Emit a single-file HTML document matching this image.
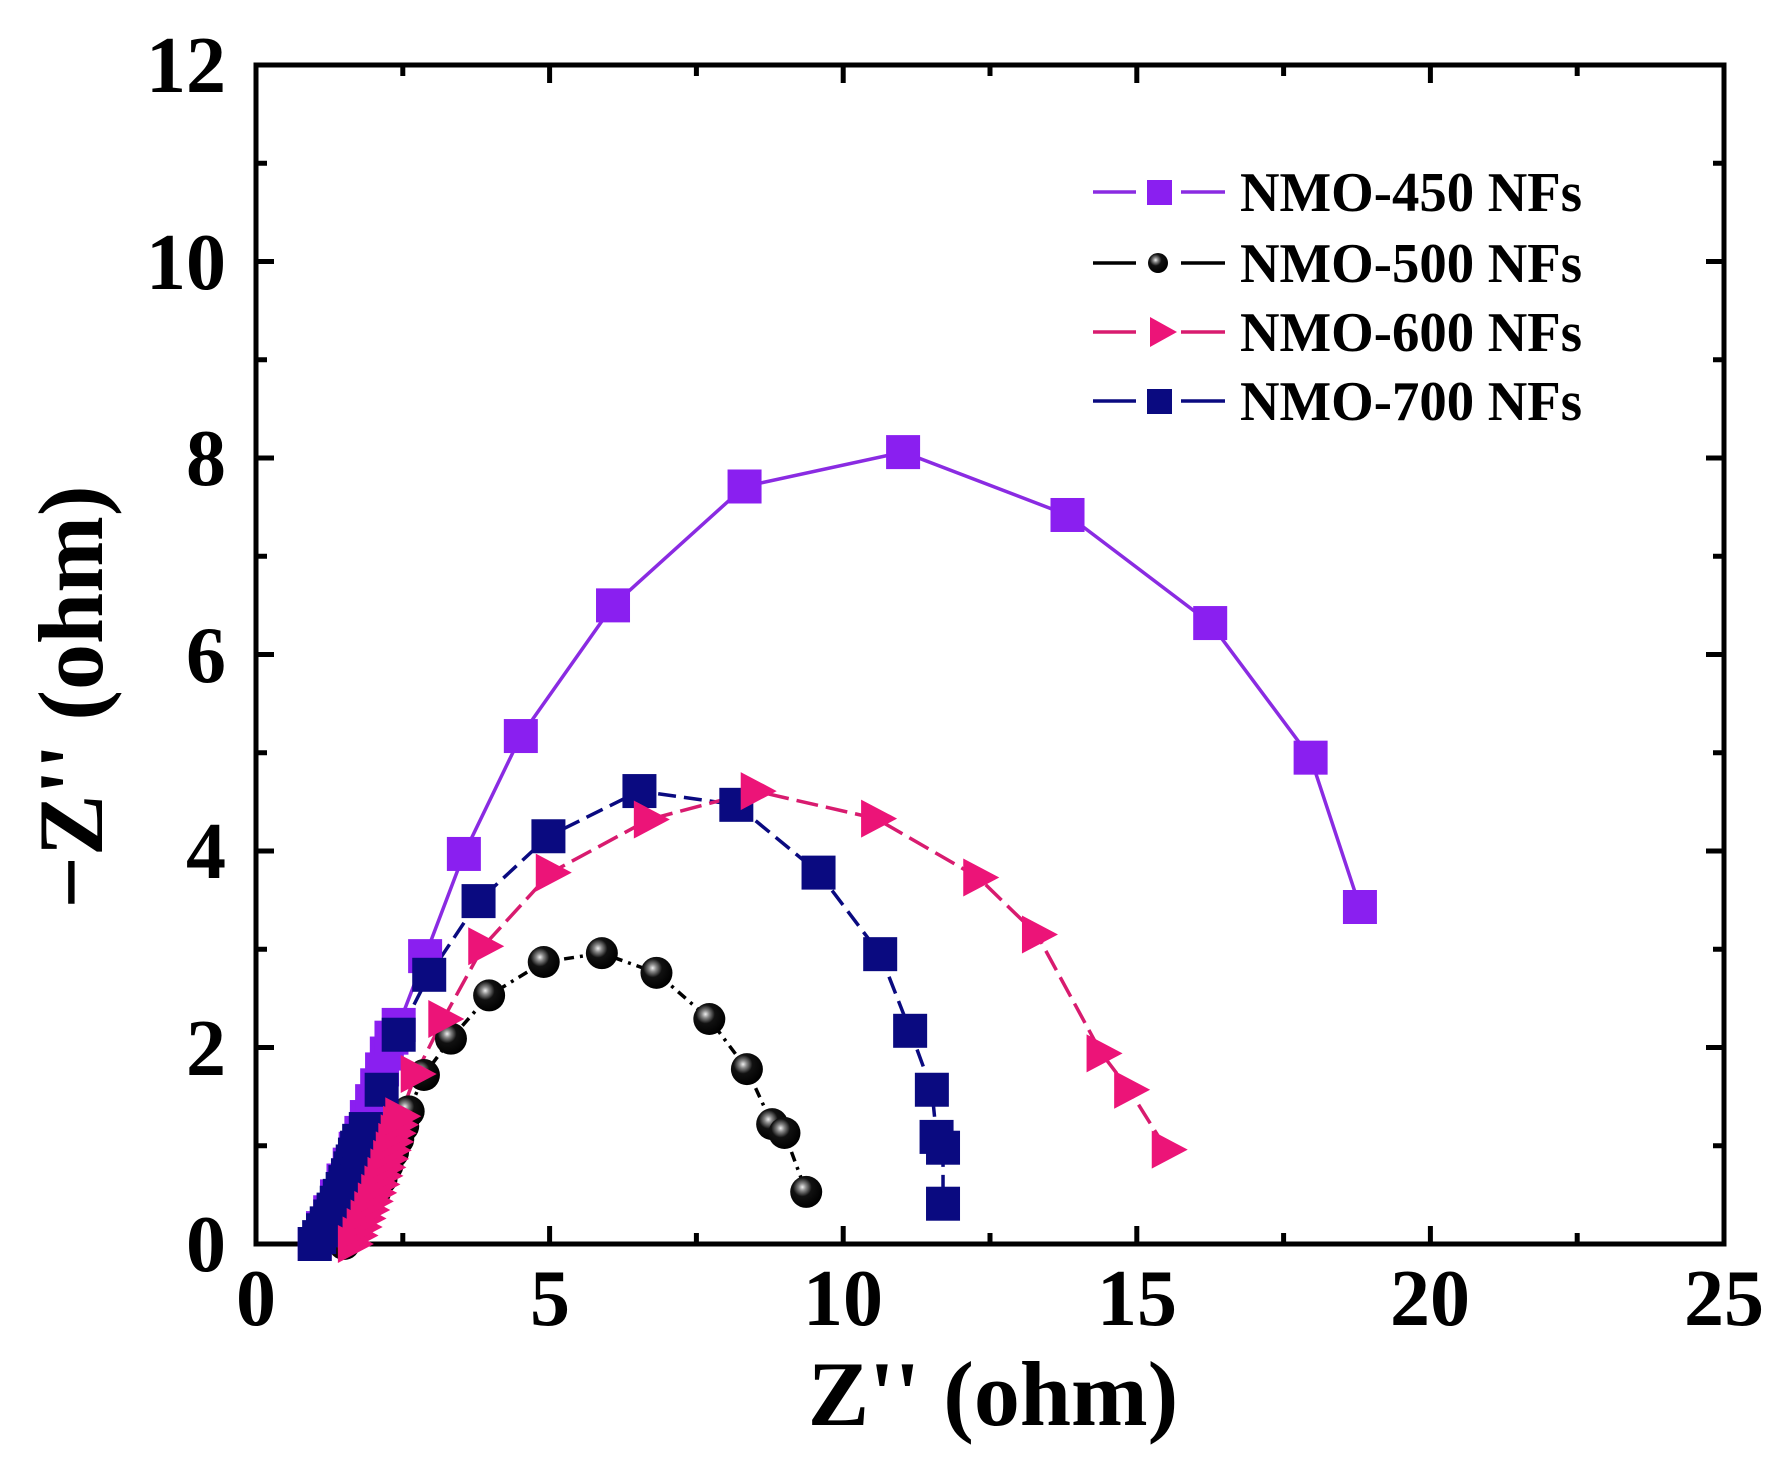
<!DOCTYPE html>
<html><head><meta charset="utf-8"><style>
html,body{margin:0;padding:0;background:#fff;}
svg{display:block;}
text{font-family:"Liberation Serif",serif;font-weight:bold;fill:#000;}
</style></head><body>
<svg id="s" width="1781" height="1461" viewBox="0 0 1781 1461" xmlns="http://www.w3.org/2000/svg">
<defs>
<radialGradient id="ball" cx="0.38" cy="0.35" r="0.65">
<stop offset="0" stop-color="#eee"/><stop offset="0.18" stop-color="#888"/><stop offset="0.45" stop-color="#111"/><stop offset="1" stop-color="#000"/>
</radialGradient>
</defs>
<rect x="256" y="65" width="1468" height="1179" fill="none" stroke="#000" stroke-width="5"/>
<g id="ticks" stroke="#000" stroke-width="5"></g>
<g font-size="80">
<text x="226" y="92" text-anchor="end">12</text>
<text x="226" y="289" text-anchor="end">10</text>
<text x="226" y="485" text-anchor="end">8</text>
<text x="226" y="682" text-anchor="end">6</text>
<text x="226" y="878" text-anchor="end">4</text>
<text x="226" y="1075" text-anchor="end">2</text>
<text x="226" y="1271" text-anchor="end">0</text>
<text x="256" y="1325" text-anchor="middle">0</text>
<text x="550" y="1325" text-anchor="middle">5</text>
<text x="843" y="1325" text-anchor="middle">10</text>
<text x="1137" y="1325" text-anchor="middle">15</text>
<text x="1430" y="1325" text-anchor="middle">20</text>
<text x="1724" y="1325" text-anchor="middle">25</text>
</g>
<text x="993" y="1425" font-size="92" text-anchor="middle">Z'' (ohm)</text>
<text transform="translate(102,697) rotate(-90)" font-size="92" text-anchor="middle">−Z'' (ohm)</text>
<g id="data"></g>
<g id="leg" font-size="56"></g>
</svg>
<script>
var NS="http://www.w3.org/2000/svg";
function el(t,a,p){var e=document.createElementNS(NS,t);for(var k in a)e.setAttribute(k,a[k]);(p||document.getElementById('data')).appendChild(e);return e;}
function X(v){return 256+v*58.72;} function Y(v){return 1244-v*98.25;}
var tk=document.getElementById('ticks');
for(var i=0;i<=10;i++){var x=X(i*2.5),L=(i%2==0)?18:11;el('line',{x1:x,y1:1244,x2:x,y2:1244-L},tk);el('line',{x1:x,y1:65,x2:x,y2:65+L},tk);}
for(var j=0;j<=12;j++){var y=Y(j),L=(j%2==0)?18:11;el('line',{x1:256,y1:y,x2:256+L,y2:y},tk);el('line',{x1:1724,y1:y,x2:1724-L,y2:y},tk);}
function tail(x0,x1,y1,n){var r=[];for(var k=0;k<n;k++){var t=k/(n-1);r.push([x0+(x1-x0)*Math.pow(t,0.9)+0.05*Math.sin(t*3),y1*t]);}return r;}
var S=[
{c:'#8a1ff0',lc:'#8a2be2',m:'sq',d:'',pts:tail(1.0,2.3,2.1,14).concat([[2.43,2.23],[2.88,2.93],[3.54,3.97],[4.51,5.17],[6.08,6.5],[8.32,7.71],[11.02,8.06],[13.82,7.42],[16.25,6.32],[17.96,4.95],[18.8,3.43]])},
{c:'url(#ball)',lc:'#000',m:'ball',d:'10,6,3,6',pts:tail(1.5,2.5,1.2,10).concat([[2.6,1.35],[2.86,1.72],[3.32,2.09],[3.97,2.53],[4.9,2.87],[5.89,2.96],[6.82,2.76],[7.72,2.29],[8.36,1.78],[8.79,1.22],[9.0,1.13],[9.37,0.53]])},
{c:'#0a0a80',lc:'#0a0a80',m:'sq',d:'18,8',pts:tail(1.0,1.75,1.05,16).concat([[1.87,1.17],[2.14,1.57],[2.43,2.13],[2.95,2.74],[3.79,3.49],[4.98,4.15],[6.53,4.61],[8.18,4.47],[9.58,3.78],[10.63,2.95],[11.14,2.17],[11.51,1.57],[11.59,1.09],[11.7,0.98],[11.7,0.41]])},
{c:'#ec1478',lc:'#d81b6f',m:'tri',d:'22,8',pts:tail(1.65,2.45,1.3,16).concat([[2.72,1.73],[3.19,2.29],[3.87,3.03],[5.02,3.78],[6.69,4.32],[8.51,4.61],[10.56,4.33],[12.3,3.73],[13.3,3.15],[14.4,1.94],[14.87,1.57],[15.51,0.96]])}
];
var g=document.getElementById('data');
S.forEach(function(s){
 var p=s.pts.map(function(q){return X(q[0])+','+Y(q[1]);}).join(' ');
 var a={points:p,fill:'none',stroke:s.lc,'stroke-width':3.5};if(s.d)a['stroke-dasharray']=s.d;el('polyline',a,g);
});
S.forEach(function(s){
 s.pts.forEach(function(q){var sz=s.m=='ball'?32:34;
  if(s.m=='sq')el('rect',{x:X(q[0])-sz/2,y:Y(q[1])-sz/2,width:sz,height:sz,fill:s.c},g);
  else if(s.m=='ball')el('circle',{cx:X(q[0]),cy:Y(q[1]),r:sz/2,fill:s.c},g);
  else {var x=X(q[0]),y=Y(q[1]);el('polygon',{points:(x-15)+','+(y-19)+' '+(x+21)+','+y+' '+(x-15)+','+(y+19),fill:s.c},g);}
 });
});
var lg=document.getElementById('leg'),names=['NMO-450 NFs','NMO-500 NFs','NMO-600 NFs','NMO-700 NFs'],ys=[192,263,332,401],ord=[0,1,3,2];
[0,1,2,3].forEach(function(i){var s=S[ord[i]],y=ys[i];
 el('line',{x1:1093,y1:y,x2:1136,y2:y,stroke:s.lc,'stroke-width':3.5},lg);
 el('line',{x1:1181,y1:y,x2:1225,y2:y,stroke:s.lc,'stroke-width':3.5},lg);
 if(s.m=='sq')el('rect',{x:1147,y:y-12,width:25,height:25,fill:s.c},lg);
 else if(s.m=='ball')el('circle',{cx:1158,cy:y,r:10,fill:s.c},lg);
 else el('polygon',{points:'1150,'+(y-15)+' 1177,'+y+' 1150,'+(y+15),fill:s.c},lg);
 var t=el('text',{x:1240,y:y+19,textLength:342,lengthAdjust:'spacingAndGlyphs'},lg);t.textContent=names[i];
});
</script>
</body></html>
